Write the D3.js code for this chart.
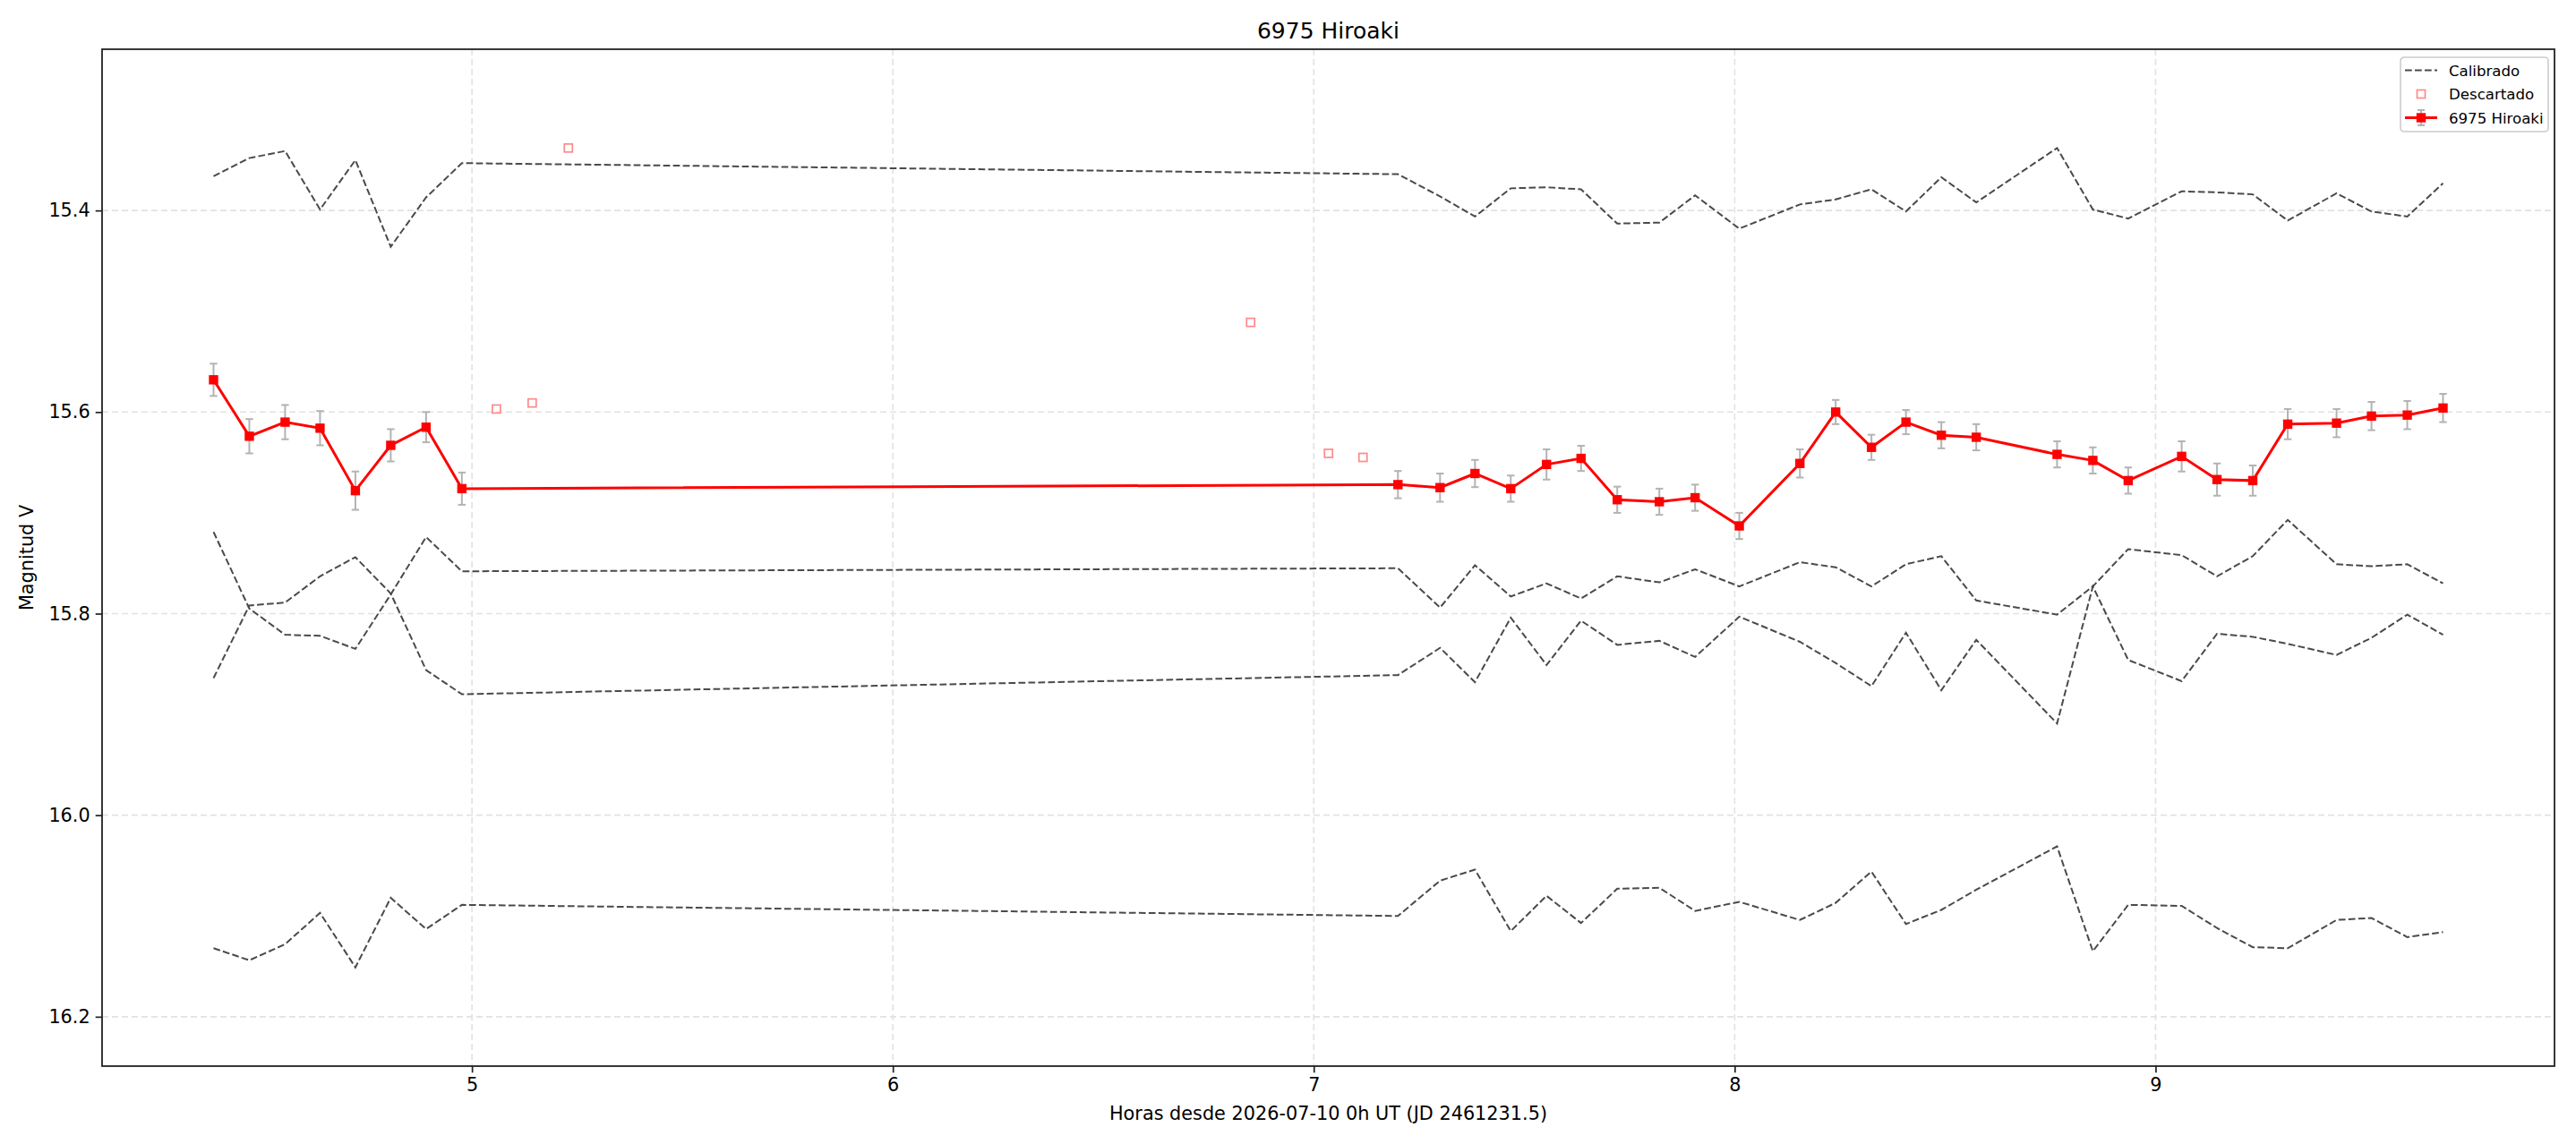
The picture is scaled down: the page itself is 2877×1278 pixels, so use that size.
<!DOCTYPE html>
<html>
<head>
<meta charset="utf-8">
<script src="https://cdn.jsdelivr.net/npm/d3@7"></script>
<style>
  body { margin: 0; background: #fff; }
  svg { display: block; font-family: "DejaVu Sans", sans-serif; }
</style>
</head>
<body>
<svg id="chart" width="2877" height="1278"></svg>
<script>

// hours since 2026-07-10 0h UT
var hours = [4.386, 4.471, 4.556, 4.639, 4.723, 4.807, 4.891, 4.976,
  7.200, 7.300, 7.383, 7.468, 7.553, 7.635, 7.721, 7.821, 7.906, 8.011,
  8.155, 8.240, 8.325, 8.407, 8.491, 8.574, 8.766, 8.851, 8.935, 9.062,
  9.146, 9.231, 9.314, 9.430, 9.513, 9.598, 9.683];

var target = [15.568, 15.624, 15.610, 15.616, 15.678, 15.633, 15.615, 15.676,
  15.672, 15.675, 15.661, 15.676, 15.652, 15.646, 15.687, 15.689, 15.685, 15.713,
  15.651, 15.600, 15.635, 15.610, 15.623, 15.625, 15.642, 15.648, 15.668, 15.644,
  15.667, 15.668, 15.612, 15.611, 15.604, 15.603, 15.596];

var targetErr = [0.016, 0.017, 0.017, 0.017, 0.019, 0.016, 0.015, 0.016,
  0.0135, 0.014, 0.0135, 0.013, 0.015, 0.0125, 0.013, 0.013, 0.013, 0.013,
  0.014, 0.012, 0.0125, 0.012, 0.013, 0.013, 0.013, 0.013, 0.013, 0.015,
  0.016, 0.015, 0.015, 0.014, 0.014, 0.014, 0.014];

// calibrated comparison stars
var calA = [15.366, 15.348, 15.341, 15.399, 15.350, 15.436, 15.387, 15.353,
  15.364, 15.386, 15.406, 15.378, 15.377, 15.379, 15.413, 15.412, 15.385, 15.418,
  15.394, 15.389, 15.379, 15.401, 15.367, 15.392, 15.338, 15.399, 15.408, 15.381,
  15.382, 15.384, 15.410, 15.383, 15.401, 15.406, 15.373];

var calB = [15.719, 15.795, 15.821, 15.822, 15.835, 15.781, 15.724, 15.758,
  15.755, 15.794, 15.752, 15.783, 15.770, 15.785, 15.763, 15.769, 15.756, 15.773,
  15.749, 15.754, 15.773, 15.751, 15.743, 15.787, 15.801, 15.773, 15.736, 15.742,
  15.763, 15.743, 15.707, 15.751, 15.753, 15.751, 15.770];

var calC = [15.864, 15.792, 15.789, 15.763, 15.744, 15.780, 15.856, 15.880,
  15.861, 15.834, 15.868, 15.804, 15.851, 15.807, 15.831, 15.827, 15.843, 15.803,
  15.828, 15.849, 15.872, 15.819, 15.876, 15.826, 15.909, 15.773, 15.846, 15.867,
  15.820, 15.823, 15.830, 15.841, 15.824, 15.801, 15.821];

var calD = [16.132, 16.144, 16.128, 16.097, 16.151, 16.082, 16.113, 16.089,
  16.100, 16.065, 16.054, 16.115, 16.080, 16.107, 16.073, 16.072, 16.095, 16.086,
  16.104, 16.087, 16.056, 16.108, 16.094, 16.074, 16.031, 16.135, 16.089, 16.090,
  16.112, 16.131, 16.132, 16.104, 16.102, 16.121, 16.116];

// discarded points
var discHours = [5.058, 5.143, 5.229, 6.850, 7.035, 7.117];
var discMag = [15.597, 15.591, 15.338, 15.511, 15.641, 15.645];

var xTicks = [5, 6, 7, 8, 9];
var yTicks = [15.4, 15.6, 15.8, 16.0, 16.2];
var yDomain = [15.24, 16.249];

var seriesName = "6975 Hiroaki";
var legendLabels = ["Calibrado", "Descartado", seriesName];

InitChart();

function InitChart() {
  var svg = d3.select("#chart"),
    WIDTH = 2877,
    HEIGHT = 1278,
    MARGINS = { top: 55, right: 24, bottom: 87, left: 114 };

  var xMin = d3.min(hours), xMax = d3.max(hours), pad = (xMax - xMin) * 0.05;
  var x = d3.scaleLinear().domain([xMin - pad, xMax + pad]).range([MARGINS.left, WIDTH - MARGINS.right]);
  var y = d3.scaleLinear().domain(yDomain).range([MARGINS.top, HEIGHT - MARGINS.bottom]);

  var left = MARGINS.left, right = WIDTH - MARGINS.right,
    top = MARGINS.top, bottom = HEIGHT - MARGINS.bottom;

  svg.append("rect").attr("width", WIDTH).attr("height", HEIGHT).attr("fill", "#fff");

  // grid
  var grid = svg.append("g").attr("stroke", "#e2e2e2").attr("stroke-width", 1.6).attr("stroke-dasharray", "7,4");
  grid.selectAll(".gx").data(xTicks).enter().append("line")
    .attr("x1", function(d) { return x(d); }).attr("x2", function(d) { return x(d); })
    .attr("y1", top).attr("y2", bottom);
  grid.selectAll(".gy").data(yTicks).enter().append("line")
    .attr("y1", function(d) { return y(d); }).attr("y2", function(d) { return y(d); })
    .attr("x1", left).attr("x2", right);

  // calibrated lines
  var line = d3.line()
    .x(function(d) { return x(d[0]); })
    .y(function(d) { return y(d[1]); });

  [calA, calB, calC, calD].forEach(function(c) {
    svg.append("path")
      .datum(hours.map(function(h, i) { return [h, c[i]]; }))
      .attr("d", line)
      .attr("fill", "none")
      .attr("stroke", "#4a4a4a")
      .attr("stroke-width", 2)
      .attr("stroke-dasharray", "7.7,3.3");
  });

  // discarded
  svg.append("g").selectAll("rect").data(discHours).enter().append("rect")
    .attr("x", function(d) { return x(d) - 4.5; })
    .attr("y", function(d, i) { return y(discMag[i]) - 4.5; })
    .attr("width", 9).attr("height", 9)
    .attr("fill", "none")
    .attr("stroke", "#ff8a8a")
    .attr("stroke-width", 1.7);

  // error bars
  var eb = svg.append("g").attr("stroke", "#b3b3b3").attr("stroke-width", 2);
  hours.forEach(function(h, i) {
    var y0 = y(target[i] - targetErr[i]), y1 = y(target[i] + targetErr[i]), cx = x(h);
    eb.append("line").attr("x1", cx).attr("x2", cx).attr("y1", y0).attr("y2", y1);
    eb.append("line").attr("x1", cx - 4.2).attr("x2", cx + 4.2).attr("y1", y0).attr("y2", y0);
    eb.append("line").attr("x1", cx - 4.2).attr("x2", cx + 4.2).attr("y1", y1).attr("y2", y1);
  });

  // target series
  svg.append("path")
    .datum(hours.map(function(h, i) { return [h, target[i]]; }))
    .attr("d", line)
    .attr("fill", "none")
    .attr("stroke", "#ff0000")
    .attr("stroke-width", 3);

  svg.append("g").selectAll("rect").data(hours).enter().append("rect")
    .attr("x", function(d) { return x(d) - 5.2; })
    .attr("y", function(d, i) { return y(target[i]) - 5.2; })
    .attr("width", 10.4).attr("height", 10.4)
    .attr("fill", "#ff0000");

  // axes
  var xAxis = d3.axisBottom(x).tickValues(xTicks).tickFormat(d3.format("d"))
    .tickSize(7.3).tickPadding(6).tickSizeOuter(0);
  var yAxis = d3.axisLeft(y).tickValues(yTicks).tickFormat(d3.format(".1f"))
    .tickSize(7.3).tickPadding(6).tickSizeOuter(0);

  var gx = svg.append("g").attr("transform", "translate(0," + bottom + ")").call(xAxis);
  var gy = svg.append("g").attr("transform", "translate(" + left + ",0)").call(yAxis);
  [gx, gy].forEach(function(g) {
    g.select(".domain").remove();
    g.selectAll("line").attr("stroke", "#222").attr("stroke-width", 1.7);
    g.selectAll("text").attr("fill", "#000").style("font-size", "20.8px")
      .style("font-family", "'DejaVu Sans', sans-serif");
  });

  // frame
  svg.append("rect")
    .attr("x", left).attr("y", top)
    .attr("width", right - left).attr("height", bottom - top)
    .attr("fill", "none").attr("stroke", "#222").attr("stroke-width", 1.8);

  // labels
  svg.append("text").attr("x", (left + right) / 2).attr("y", 43)
    .attr("text-anchor", "middle").style("font-size", "25px").text(seriesName);
  svg.append("text").attr("x", (left + right) / 2).attr("y", 1251)
    .attr("text-anchor", "middle").style("font-size", "20.8px")
    .text("Horas desde 2026-07-10 0h UT (JD 2461231.5)");
  svg.append("text").attr("transform", "translate(37," + ((top + bottom) / 2) + ") rotate(-90)")
    .attr("text-anchor", "middle").style("font-size", "20.8px").text("Magnitud V");

  // legend
  var lg = svg.append("g").attr("transform", "translate(" + (right - 172) + "," + (top + 9) + ")");
  lg.append("rect").attr("width", 165).attr("height", 83).attr("rx", 4)
    .attr("fill", "#fff").attr("fill-opacity", 0.8)
    .attr("stroke", "#cccccc").attr("stroke-width", 1.6);
  var rows = [14.5, 41, 67.5];
  lg.append("line").attr("x1", 5).attr("x2", 41).attr("y1", rows[0]).attr("y2", rows[0])
    .attr("stroke", "#4a4a4a").attr("stroke-width", 2).attr("stroke-dasharray", "7.7,3.3");
  lg.append("rect").attr("x", 23 - 4.5).attr("y", rows[1] - 4.5).attr("width", 9).attr("height", 9)
    .attr("fill", "none").attr("stroke", "#ff8a8a").attr("stroke-width", 1.7);
  lg.append("line").attr("x1", 23).attr("x2", 23).attr("y1", rows[2] - 8.5).attr("y2", rows[2] + 8.5)
    .attr("stroke", "#b3b3b3").attr("stroke-width", 2);
  lg.append("line").attr("x1", 19).attr("x2", 27).attr("y1", rows[2] - 8.5).attr("y2", rows[2] - 8.5)
    .attr("stroke", "#b3b3b3").attr("stroke-width", 2);
  lg.append("line").attr("x1", 19).attr("x2", 27).attr("y1", rows[2] + 8.5).attr("y2", rows[2] + 8.5)
    .attr("stroke", "#b3b3b3").attr("stroke-width", 2);
  lg.append("line").attr("x1", 5).attr("x2", 41).attr("y1", rows[2]).attr("y2", rows[2])
    .attr("stroke", "#ff0000").attr("stroke-width", 3);
  lg.append("rect").attr("x", 23 - 5.2).attr("y", rows[2] - 5.2).attr("width", 10.4).attr("height", 10.4)
    .attr("fill", "#ff0000");
  lg.selectAll(".lt").data(legendLabels).enter().append("text")
    .attr("x", 54).attr("y", function(d, i) { return rows[i] + 6; })
    .style("font-size", "16.6px").text(function(d) { return d; });
}

</script>
</body>
</html>
